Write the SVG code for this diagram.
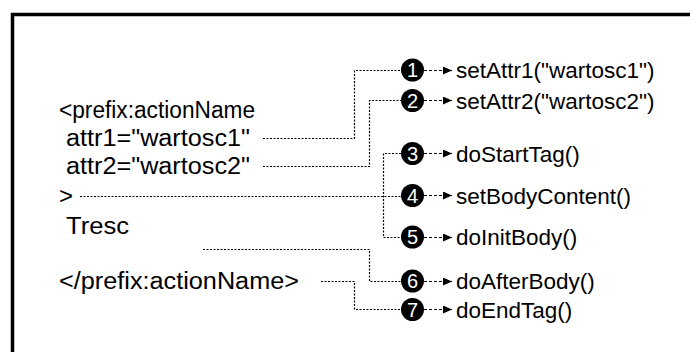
<svg xmlns="http://www.w3.org/2000/svg" width="690" height="352" viewBox="0 0 690 352">
<style>
.t{font-family:"Liberation Sans",Arial,Helvetica,sans-serif;font-size:23px;fill:#000}
.r{font-family:"Liberation Sans",Arial,Helvetica,sans-serif;font-size:22.5px;fill:#000}
.n{font-family:"Liberation Sans",Arial,Helvetica,sans-serif;font-size:20px;fill:#fff;text-anchor:middle}
.c{fill:none;stroke:#000;stroke-width:1.2;stroke-dasharray:2 1.5}
.a{fill:none;stroke:#000;stroke-width:1.2;stroke-dasharray:3 2;marker-end:url(#ah)}
</style>
<defs>
<marker id="ah" markerUnits="userSpaceOnUse" markerWidth="10" markerHeight="8" refX="9" refY="4" orient="auto">
<path d="M0,0 L9,4 L0,8 Z" fill="#000"/>
</marker>
</defs>
<rect width="690" height="352" fill="#fff"/>
<path d="M12.5,360 V14.5 H700" fill="none" stroke="#000" stroke-width="3.5"/>
<g id="source">
<text class="t" x="59" y="118" textLength="196" lengthAdjust="spacingAndGlyphs">&lt;prefix:actionName</text>
<text class="t" x="66" y="146" textLength="184" lengthAdjust="spacingAndGlyphs">attr1="wartosc1"</text>
<text class="t" x="66" y="174" textLength="184" lengthAdjust="spacingAndGlyphs">attr2="wartosc2"</text>
<text class="t" x="59" y="204" textLength="14" lengthAdjust="spacingAndGlyphs">&gt;</text>
<text class="t" x="66" y="234" textLength="63" lengthAdjust="spacingAndGlyphs">Tresc</text>
<text class="t" x="59" y="289" textLength="240" lengthAdjust="spacingAndGlyphs">&lt;/prefix:actionName&gt;</text>
</g>
<g id="connectors">
<path class="c" d="M263,138.5 H354.5 V70.5 H401"/>
<path class="c" d="M263,166.5 H369.5 V100.5 H401"/>
<path class="c" d="M80,196.5 H401"/>
<path class="c" d="M401,153.5 H383.5 V237.5 H401"/>
<path class="c" d="M203,249.5 H369.5 V281.5 H401"/>
<path class="c" d="M321,281.5 H354.5 V309.5 H401"/>
<path class="a" d="M424,70.5 H452"/>
<path class="a" d="M424,100.5 H452"/>
<path class="a" d="M424,153.5 H452"/>
<path class="a" d="M424,195.5 H452"/>
<path class="a" d="M424,237.5 H452"/>
<path class="a" d="M424,281.5 H452"/>
<path class="a" d="M424,309.5 H452"/>
</g>
<g id="step1"><circle cx="412.5" cy="70" r="11.5"/><text class="n" x="412.5" y="77">1</text><text class="r" x="456" y="78">setAttr1("wartosc1")</text></g>
<g id="step2"><circle cx="412.5" cy="100.5" r="11.5"/><text class="n" x="412.5" y="107.5">2</text><text class="r" x="456" y="108.5">setAttr2("wartosc2")</text></g>
<g id="step3"><circle cx="412.5" cy="153.5" r="11.5"/><text class="n" x="412.5" y="160.5">3</text><text class="r" x="456" y="161.5">doStartTag()</text></g>
<g id="step4"><circle cx="412.5" cy="195.5" r="11.5"/><text class="n" x="412.5" y="202.5">4</text><text class="r" x="456" y="203.5">setBodyContent()</text></g>
<g id="step5"><circle cx="412.5" cy="237" r="11.5"/><text class="n" x="412.5" y="244">5</text><text class="r" x="456" y="245">doInitBody()</text></g>
<g id="step6"><circle cx="412.5" cy="281" r="11.5"/><text class="n" x="412.5" y="288">6</text><text class="r" x="456" y="289">doAfterBody()</text></g>
<g id="step7"><circle cx="412.5" cy="309.5" r="11.5"/><text class="n" x="412.5" y="316.5">7</text><text class="r" x="456" y="317.5">doEndTag()</text></g>
</svg>
